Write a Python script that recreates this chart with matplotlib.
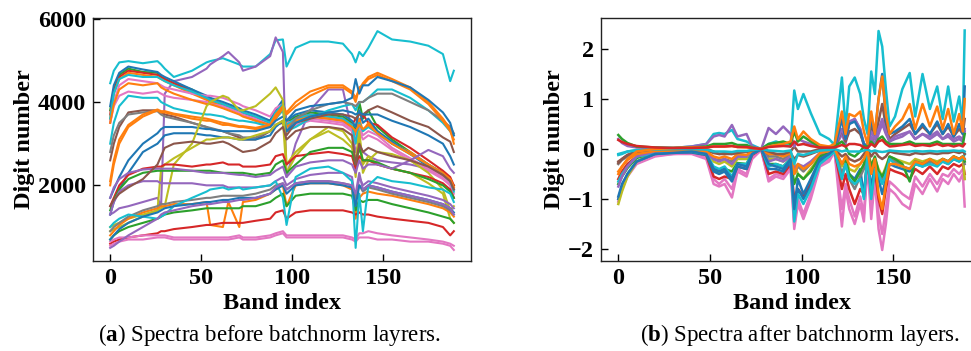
import matplotlib
matplotlib.use("Agg")
import matplotlib.pyplot as plt

plt.rcParams['font.family'] = ['Liberation Serif', 'DejaVu Serif']
plt.rcParams['mathtext.fontset'] = 'custom'
plt.rcParams['mathtext.rm'] = 'Liberation Serif'
plt.rcParams['mathtext.bf'] = 'Liberation Serif:bold'

# ---------------- panel (a): raw spectra ----------------
bands_a = [0, 2, 5, 10, 18, 26, 28, 30, 35, 45, 53, 55, 62, 65, 71, 73, 80, 88, 91, 95, 97,
           102, 110, 120, 128, 133, 135, 137, 139, 142, 147, 155, 165, 175, 183, 187, 189]

colors_a = ['C9', 'C4', 'C2', 'C3', 'C1', 'C0', 'C6', 'C6', 'C9', 'C1',
            'C9', 'C5', 'C7', 'C1', 'C1', 'C0', 'C0', 'C8', 'C8', 'C3',
            'C2', 'C4', 'C4', 'C5', 'C1', 'C7', 'C2', 'C3', 'C6', 'C6',
            'C9', 'C0', 'C4']

spectra_a = [
    [4450, 4750, 4950, 4980, 4930, 4980, 4900, 4800, 4600, 4750, 4950, 4980, 5050, 5000, 4900, 4850, 4850, 5150, 5480, 5500, 4850, 5300, 5450, 5450, 5400, 5150, 4950, 5200, 5100, 5300, 5700, 5500, 5450, 5350, 5150, 4500, 4750],
    [1300, 1350, 1450, 1500, 1600, 1700, 1500, 4200, 4500, 4600, 4800, 4900, 5100, 5200, 4950, 4750, 4850, 5100, 5550, 5200, 2200, 3000, 3800, 4300, 4300, 3300, 2800, 3000, 2800, 2700, 2600, 2550, 2500, 2400, 2200, 2000, 1900],
    [3800, 4300, 4650, 4800, 4720, 4700, 4600, 4550, 4450, 4300, 4100, 4050, 3950, 3900, 3800, 3750, 3650, 3550, 3800, 4000, 3500, 3650, 3750, 3700, 3650, 3500, 3300, 4000, 3600, 3800, 3400, 3100, 2800, 2500, 2300, 2100, 2000],
    [3700, 4250, 4600, 4750, 4700, 4650, 4600, 4550, 4450, 4250, 4100, 4050, 3950, 3900, 3800, 3750, 3600, 3500, 3750, 3950, 3450, 3600, 3700, 3650, 3600, 3450, 3600, 3500, 3700, 3500, 3450, 3150, 2900, 2600, 2350, 2200, 2000],
    [3600, 4200, 4550, 4700, 4650, 4600, 4550, 4500, 4400, 4200, 4050, 4000, 3900, 3850, 3750, 3700, 3550, 3450, 3700, 3900, 3400, 3550, 3650, 3600, 3550, 3400, 3200, 3600, 3300, 3500, 3300, 3000, 2800, 2500, 2300, 2150, 1950],
    [3900, 4400, 4700, 4850, 4780, 4720, 4650, 4600, 4500, 4300, 4150, 4100, 4000, 3950, 3850, 3800, 3700, 3550, 3800, 4050, 3550, 3700, 3800, 3750, 3700, 3550, 3400, 3800, 3500, 3600, 3300, 3050, 2750, 2450, 2250, 2050, 1900],
    [3500, 4000, 4400, 4550, 4500, 4450, 4400, 4350, 4300, 4200, 4150, 4150, 4100, 4050, 3950, 3900, 3800, 3650, 3850, 3950, 3500, 3550, 3600, 3550, 3500, 3350, 3100, 3400, 3200, 3300, 3200, 2900, 2650, 2400, 2200, 2050, 1800],
    [3500, 3900, 4150, 4250, 4200, 4250, 4200, 4150, 4100, 4050, 4000, 3950, 3900, 3850, 3750, 3700, 3600, 3450, 3650, 3850, 3300, 3450, 3550, 3500, 3450, 3300, 3000, 3300, 3100, 3200, 3100, 2850, 2600, 2350, 2150, 2000, 1700],
    [3600, 4200, 4550, 4650, 4600, 4600, 4550, 4500, 4400, 4250, 4100, 4050, 3950, 3900, 3800, 3750, 3650, 3500, 3750, 3950, 3450, 3600, 3700, 3650, 3600, 3450, 3000, 3500, 3300, 3400, 3250, 3000, 2750, 2500, 2250, 2100, 1850],
    [3500, 3950, 4300, 4450, 4400, 4450, 4350, 4300, 4200, 4050, 3950, 3950, 3850, 3800, 3700, 3650, 3550, 3450, 3700, 3900, 3400, 3550, 3650, 3600, 3550, 3400, 3300, 3450, 3350, 3450, 3250, 3000, 2750, 2500, 2250, 2150, 1950],
    [3000, 3500, 3900, 4150, 4100, 4100, 4000, 3950, 3850, 3750, 3700, 3700, 3650, 3600, 3550, 3550, 3500, 3400, 3600, 3800, 3300, 3400, 3600, 3800, 3900, 3950, 3800, 4000, 4000, 4100, 4300, 4300, 4100, 3800, 3500, 3300, 3200],
    [2600, 3000, 3400, 3750, 3800, 3800, 3750, 3700, 3650, 3500, 3400, 3350, 3300, 3250, 3150, 3100, 3100, 3300, 3450, 3500, 3200, 3500, 3600, 3700, 3700, 3650, 3600, 3700, 3700, 3800, 3900, 3750, 3550, 3400, 3150, 3050, 2800],
    [2800, 3200, 3500, 3700, 3750, 3780, 3700, 3650, 3600, 3500, 3400, 3380, 3300, 3250, 3200, 3150, 3150, 3300, 3450, 3550, 3300, 3600, 3800, 3950, 4000, 3950, 3900, 4000, 4000, 4100, 4200, 4200, 4000, 3800, 3550, 3400, 3250],
    [2000, 2500, 3000, 3400, 3650, 3800, 3750, 3750, 3700, 3600, 3550, 3550, 3450, 3450, 3400, 3400, 3350, 3400, 3600, 3850, 3700, 3900, 4150, 4350, 4350, 4200, 4000, 4350, 4400, 4550, 4650, 4500, 4300, 3950, 3550, 3300, 3100],
    [2100, 2600, 3100, 3450, 3700, 3820, 3780, 3780, 3720, 3650, 3600, 3580, 3500, 3480, 3420, 3420, 3380, 3450, 3650, 3900, 3750, 4000, 4250, 4400, 4400, 4250, 4100, 4300, 4450, 4600, 4700, 4550, 4350, 4000, 3600, 3350, 3000],
    [1700, 1900, 2200, 2600, 3000, 3250, 3350, 3400, 3400, 3400, 3350, 3350, 3300, 3300, 3300, 3300, 3300, 3400, 3550, 3650, 3550, 3800, 3900, 3950, 4000, 4100, 4550, 4200, 4400, 4400, 4600, 4500, 4350, 4050, 3750, 3500, 3200],
    [1300, 1600, 1900, 2300, 2800, 3000, 3100, 3200, 3250, 3250, 3200, 3200, 3150, 3150, 3100, 3100, 3100, 3200, 3400, 3550, 3300, 3500, 3650, 3750, 3800, 3750, 3700, 3750, 3700, 3700, 3700, 3550, 3400, 3200, 3000, 2700, 2500],
    [900, 950, 1000, 1100, 1250, 1400, 2400, 2500, 2650, 2900, 3100, 3100, 3150, 3150, 3100, 3100, 3200, 3300, 3450, 3550, 2300, 2700, 3100, 3400, 3300, 3000, 2200, 3200, 2300, 2600, 2800, 2750, 2600, 2300, 1900, 1400, 1500],
    [1000, 1050, 1100, 1200, 1300, 1400, 1450, 1500, 2500, 3000, 3900, 4000, 4150, 4100, 3800, 3800, 3900, 4200, 4350, 4050, 2500, 2800, 3100, 3300, 3100, 2900, 2600, 3300, 2500, 2700, 2500, 2400, 2300, 2050, 1800, 1200, 1100],
    [1500, 1700, 2000, 2250, 2400, 2450, 2450, 2500, 2500, 2450, 2500, 2500, 2550, 2500, 2500, 2450, 2450, 2500, 2700, 2750, 2500, 2700, 2750, 2800, 2750, 2700, 2400, 2700, 2600, 2600, 2500, 2400, 2300, 2200, 2050, 1900, 1700],
    [1400, 1650, 1900, 2150, 2300, 2350, 2350, 2350, 2350, 2350, 2350, 2350, 2300, 2300, 2300, 2300, 2250, 2300, 2500, 2600, 2300, 2500, 2800, 2900, 2900, 2800, 2500, 2900, 2600, 2600, 2550, 2400, 2300, 2150, 2000, 1850, 1700],
    [1700, 1950, 2150, 2300, 2380, 2400, 2400, 2400, 2400, 2350, 2300, 2300, 2300, 2280, 2250, 2250, 2200, 2250, 2350, 2450, 2200, 2450, 2550, 2600, 2600, 2500, 2300, 2600, 2400, 2500, 2500, 2400, 2600, 2850, 2700, 2400, 2300],
    [1300, 1600, 1850, 2000, 2100, 2100, 2050, 2050, 2050, 2050, 2000, 2000, 2000, 1950, 1950, 1950, 1950, 2000, 2100, 2200, 2000, 2150, 2250, 2300, 2300, 2200, 1600, 2200, 2000, 2100, 2050, 1950, 1850, 1750, 1650, 1550, 1450],
    [1500, 1650, 1800, 1950, 2150, 2500, 2700, 2900, 3000, 3050, 3000, 3000, 3050, 3000, 2850, 2800, 2850, 3050, 3250, 3400, 3100, 3300, 3400, 3400, 3350, 3200, 2500, 3000, 2800, 2900, 2800, 2700, 2600, 2450, 2250, 2100, 1900],
    [800, 900, 1050, 1200, 1350, 1450, 1500, 1500, 1550, 1550, 1600, 1050, 1000, 1600, 1000, 1600, 1650, 1800, 1900, 2000, 1500, 2000, 2050, 2050, 2000, 1900, 1200, 1700, 1800, 1850, 1800, 1750, 1650, 1550, 1450, 1350, 1250],
    [900, 1000, 1100, 1250, 1400, 1500, 1550, 1550, 1600, 1650, 1700, 1700, 1750, 1750, 1750, 1750, 1800, 1900, 2000, 2050, 1900, 2050, 2100, 2100, 2050, 2000, 1700, 2000, 1850, 1950, 1900, 1800, 1700, 1600, 1500, 1400, 1300],
    [700, 800, 900, 1000, 1100, 1200, 1250, 1300, 1350, 1400, 1450, 1450, 1450, 1450, 1450, 1500, 1500, 1600, 1700, 1800, 1500, 1750, 1800, 1800, 1800, 1750, 1400, 1650, 1600, 1650, 1650, 1550, 1450, 1350, 1250, 1200, 1100],
    [600, 650, 700, 750, 800, 850, 900, 900, 950, 1000, 1050, 1050, 1100, 1100, 1100, 1100, 1150, 1200, 1350, 1400, 1200, 1350, 1400, 1400, 1400, 1350, 1300, 1350, 1300, 1300, 1250, 1200, 1150, 1100, 1000, 800, 900],
    [550, 600, 650, 700, 700, 750, 750, 750, 700, 700, 700, 700, 700, 700, 750, 700, 700, 750, 800, 850, 750, 750, 750, 750, 750, 700, 650, 750, 750, 750, 700, 700, 650, 650, 600, 550, 450],
    [650, 700, 750, 750, 800, 800, 800, 800, 750, 750, 750, 750, 750, 750, 800, 750, 750, 800, 850, 900, 800, 800, 800, 800, 800, 750, 700, 850, 850, 900, 850, 800, 750, 700, 650, 600, 550],
    [1000, 1100, 1200, 1300, 1250, 1200, 1250, 1300, 1500, 1700, 1850, 1900, 1950, 1900, 1950, 1900, 1950, 2000, 2100, 1700, 1050, 2200, 2400, 2450, 2300, 2100, 500, 1800, 900, 2000, 2200, 2100, 2050, 1950, 1900, 1800, 1600],
    [700, 800, 950, 1100, 1250, 1350, 1400, 1450, 1500, 1550, 1600, 1600, 1650, 1650, 1700, 1700, 1700, 1800, 1900, 2000, 1800, 2000, 2050, 2050, 2000, 1950, 1500, 2000, 1900, 2000, 1950, 1850, 1750, 1650, 1550, 1450, 1350],
    [500, 550, 650, 800, 1000, 1200, 1300, 1350, 1400, 1500, 1550, 1550, 1600, 1600, 1650, 1650, 1700, 1800, 1950, 2050, 1900, 2050, 2100, 2100, 2050, 2000, 1800, 2300, 1900, 2000, 1950, 1850, 1750, 1650, 1550, 1450, 1300],
]

# ---------------- panel (b): after batchnorm ----------------
bands_b = [0, 2, 5, 10, 20, 30, 40, 48, 52, 55, 58, 62, 65, 70, 73, 78, 82, 86, 90, 94, 96, 98,
           101, 105, 110, 115, 118, 122, 124, 126, 129, 132, 134, 136, 138, 140, 142, 144, 146,
           148, 151, 155, 159, 162, 166, 170, 174, 177, 180, 183, 186, 188, 189]

colors_b = ['C6', 'C6', 'C3', 'C0', 'C8', 'C7', 'C2', 'C9', 'C5', 'C4', 'C1', 'C9',
            'C5', 'C4', 'C0', 'C2', 'C9', 'C1', 'C3']

spectra_b = [
    [-1.05, -0.8, -0.55, -0.3, -0.15, -0.1, -0.1, -0.2, -0.7, -0.75, -0.7, -0.97, -0.45, -0.55, -0.2, -0.02, -0.65, -0.55, -0.6, -0.4, -1.6, -1.1, -1.4, -1.0, -0.35, -0.25, -0.05, -1.55, -0.8, -1.2, -1.5, -1.1, -1.45, -0.3, -1.4, -0.6, -1.6, -2.02, -1.5, -0.8, -0.9, -1.1, -1.2, -0.7, -0.9, -0.6, -0.85, -0.6, -0.7, -0.5, -0.65, -0.5, -1.15],
    [-1.0, -0.75, -0.5, -0.28, -0.13, -0.1, -0.08, -0.18, -0.6, -0.7, -0.6, -0.8, -0.4, -0.5, -0.15, -0.02, -0.6, -0.5, -0.55, -0.35, -1.5, -1.0, -1.3, -0.9, -0.3, -0.2, -0.05, -1.2, -0.7, -1.0, -1.35, -0.95, -1.3, -0.25, -1.2, -0.5, -1.3, -1.7, -1.2, -0.65, -0.75, -0.9, -1.0, -0.55, -0.75, -0.5, -0.7, -0.5, -0.55, -0.4, -0.5, -0.4, -0.6],
    [-0.6, -0.45, -0.3, -0.15, -0.08, -0.06, -0.06, -0.12, -0.55, -0.6, -0.55, -0.6, -0.35, -0.4, -0.12, 0.0, -0.5, -0.45, -0.5, -0.3, -1.0, -0.8, -0.95, -0.7, -0.25, -0.15, -0.03, -0.8, -0.5, -0.8, -1.1, -0.8, -0.9, -0.2, -0.9, -0.4, -1.0, -1.3, -0.8, -0.4, -0.45, -0.5, -0.6, -0.4, -0.5, -0.35, -0.5, -0.35, -0.4, -0.3, -0.35, -0.3, -0.5],
    [-1.0, -0.75, -0.5, -0.25, -0.1, -0.07, -0.07, -0.12, -0.45, -0.5, -0.45, -0.65, -0.35, -0.4, -0.1, 0.0, -0.4, -0.4, -0.45, -0.25, -1.3, -0.8, -1.0, -0.75, -0.25, -0.1, -0.05, -0.5, -0.3, -0.5, -0.6, -0.4, -0.95, -0.1, -0.8, -0.3, -0.6, -0.9, -0.6, -0.3, -0.35, -0.4, -0.45, -0.3, -0.35, -0.25, -0.3, -0.25, -0.3, -0.2, -0.25, -0.2, -0.2],
    [-1.1, -0.85, -0.55, -0.25, -0.08, -0.05, -0.05, -0.08, -0.25, -0.3, -0.25, -0.35, -0.2, -0.2, -0.05, 0.0, -0.2, -0.2, -0.25, -0.15, -0.3, -0.5, -0.6, -0.4, -0.15, -0.05, 0.0, -0.35, -0.2, -0.4, -0.45, -0.3, -0.2, -0.05, -0.3, -0.2, -0.4, -0.55, -0.35, -0.15, -0.2, -0.25, -0.3, -0.2, -0.25, -0.2, -0.25, -0.2, -0.25, -0.15, -0.2, -0.15, -0.6],
    [-0.3, -0.22, -0.15, -0.08, -0.04, -0.03, -0.03, -0.05, -0.2, -0.22, -0.2, -0.25, -0.15, -0.15, -0.05, 0.0, -0.15, -0.15, -0.2, -0.1, -0.5, -0.35, -0.45, -0.3, -0.1, -0.05, 0.0, -0.5, -0.3, -0.6, -0.8, -0.55, -0.4, -0.05, -0.4, -0.2, -0.5, -0.6, -0.4, -0.2, -0.25, -0.35, -0.4, -0.25, -0.3, -0.25, -0.3, -0.2, -0.25, -0.15, -0.2, -0.15, -0.3],
    [-0.7, -0.55, -0.38, -0.18, -0.07, -0.05, -0.05, -0.1, -0.4, -0.45, -0.4, -0.45, -0.28, -0.3, -0.08, 0.0, -0.3, -0.3, -0.35, -0.2, -0.7, -0.5, -0.6, -0.45, -0.15, -0.08, -0.02, -0.3, -0.2, -0.5, -0.65, -0.45, -0.3, -0.05, -0.35, -0.15, -0.45, -0.55, -0.4, -0.15, -0.2, -0.3, -0.65, -0.25, -0.3, -0.2, -0.3, -0.2, -0.25, -0.15, -0.2, -0.15, -0.25],
    [-0.65, -0.5, -0.35, -0.15, -0.1, -0.05, -0.05, -0.1, -0.35, -0.4, -0.35, -0.55, -0.3, -0.3, -0.1, 0.0, -0.35, -0.3, -0.35, -0.2, -1.45, -0.9, -1.1, -0.8, -0.3, -0.15, -0.05, -0.6, -0.3, -0.6, -0.7, -0.6, -1.0, -0.1, -1.0, -0.4, -0.5, -0.7, -0.5, -0.2, -0.3, -0.35, -0.4, -0.3, -0.35, -0.3, -0.35, -0.25, -0.3, -0.2, -0.25, -0.2, -0.1],
    [-0.28, -0.2, -0.12, -0.05, -0.02, 0.0, -0.01, -0.03, -0.08, -0.1, -0.08, -0.1, -0.06, -0.06, -0.03, 0.0, -0.1, -0.1, -0.12, -0.08, -0.2, -0.12, -0.15, -0.1, -0.03, -0.01, 0.0, -0.15, -0.1, -0.2, -0.25, -0.2, -0.1, 0.0, -0.15, -0.05, -0.15, -0.2, -0.15, -0.05, -0.08, -0.1, -0.12, -0.08, -0.1, -0.08, -0.1, -0.08, -0.08, -0.05, -0.08, -0.05, -0.1],
    [-0.75, -0.55, -0.35, -0.15, -0.05, -0.04, -0.04, -0.08, -0.2, -0.25, -0.2, -0.3, -0.15, -0.15, -0.05, 0.0, -0.25, -0.2, -0.25, -0.15, -0.4, -0.3, -0.35, -0.25, -0.08, -0.04, 0.0, 0.3, 0.1, 0.55, 0.6, 0.4, 0.05, 0.0, 0.25, 0.1, 0.3, 0.5, 0.3, 0.15, 0.2, 0.25, 0.35, 0.2, 0.3, 0.2, 0.3, 0.2, 0.25, 0.15, 0.2, 0.15, 0.4],
    [-0.45, -0.35, -0.22, -0.1, -0.04, -0.03, -0.03, -0.05, -0.15, -0.18, -0.15, -0.2, -0.1, -0.12, -0.04, 0.0, -0.1, -0.1, -0.15, -0.08, -0.5, -0.3, -0.4, -0.3, -0.08, -0.04, 0.0, -0.3, -0.15, -0.3, -0.35, -0.3, -0.2, -0.03, -0.5, -0.2, -0.9, -1.2, -0.7, -0.3, -0.3, -0.35, -0.4, -0.25, -0.3, -0.2, -0.3, -0.2, -0.25, -0.15, -0.2, -0.15, -0.2],
    [-0.12, -0.1, -0.05, -0.02, 0.02, 0.02, 0.05, 0.1, 0.3, 0.32, 0.3, 0.38, 0.2, 0.15, 0.08, 0.0, 0.1, 0.15, 0.1, 0.05, 1.17, 0.8, 1.1, 0.72, 0.3, 0.2, 0.08, 1.43, 0.4, 1.25, 1.43, 1.1, 0.6, 0.3, 1.55, 1.1, 2.36, 2.05, 1.2, 0.45, 0.65, 1.2, 1.52, 0.65, 1.5, 0.8, 1.25, 0.6, 1.25, 0.55, 1.05, 0.5, 2.37],
    [-0.25, -0.2, -0.12, -0.05, 0.0, 0.0, 0.0, 0.0, -0.05, -0.1, -0.1, -0.1, -0.08, -0.05, -0.03, 0.0, -0.05, -0.1, -0.1, -0.05, 0.05, -0.05, -0.05, -0.05, 0.0, 0.0, 0.0, 0.4, 0.15, 0.35, 0.4, 0.3, 0.1, 0.05, 0.45, 0.2, 0.55, 0.9, 0.45, 0.2, 0.3, 0.4, 0.5, 0.3, 0.45, 0.3, 0.5, 0.3, 0.45, 0.25, 0.4, 0.3, 0.6],
    [0.2, 0.12, 0.06, 0.03, 0.02, 0.02, 0.05, 0.1, 0.25, 0.28, 0.25, 0.48, 0.25, 0.3, 0.05, 0.0, 0.42, 0.3, 0.45, 0.3, 0.05, 0.2, 0.15, 0.1, 0.05, 0.05, 0.05, 0.4, 0.2, 0.5, 0.6, 0.4, 0.1, 0.05, 0.35, 0.2, 0.4, 0.6, 0.35, 0.15, 0.25, 0.3, 0.35, 0.2, 0.3, 0.25, 0.35, 0.2, 0.3, 0.2, 0.25, 0.2, 0.35],
    [-0.95, -0.7, -0.5, -0.25, -0.1, -0.08, -0.05, -0.1, -0.4, -0.45, -0.4, -0.6, -0.3, -0.35, -0.1, 0.0, -0.3, -0.35, -0.4, -0.2, -1.2, -0.6, -0.9, -0.6, -0.2, -0.1, 0.0, 0.6, 0.2, 0.5, 0.55, 0.35, 0.1, 0.05, 0.6, 0.3, 1.0, 1.5, 0.6, 0.3, 0.35, 0.45, 0.6, 0.3, 0.5, 0.3, 0.55, 0.3, 0.5, 0.25, 0.5, 0.3, 1.25],
    [0.28, 0.2, 0.12, 0.05, 0.03, 0.02, 0.03, 0.05, 0.1, 0.1, 0.1, 0.12, 0.08, 0.08, 0.03, 0.0, 0.1, 0.12, 0.15, 0.1, 0.35, 0.15, 0.25, 0.15, 0.05, 0.03, 0.05, 0.15, 0.05, -0.1, -0.15, -0.05, 0.05, 0.05, 0.15, 0.05, 0.2, 0.25, 0.15, 0.1, 0.1, 0.1, 0.15, 0.1, 0.1, 0.1, 0.15, 0.1, 0.1, 0.1, 0.1, 0.1, 0.3],
    [-0.1, -0.08, -0.05, -0.03, -0.01, 0.0, 0.0, -0.01, -0.05, -0.05, -0.05, -0.06, -0.04, -0.04, -0.02, 0.0, -0.03, -0.04, -0.05, -0.03, -0.3, -0.1, -0.12, -0.08, -0.03, -0.02, 0.0, -0.05, -0.03, -0.05, -0.05, -0.05, -0.03, -0.01, -0.05, -0.03, -0.05, -0.06, -0.05, -0.03, -0.04, -0.05, -0.05, -0.04, -0.05, -0.04, -0.05, -0.04, -0.04, -0.03, -0.04, -0.03, -0.05],
    [-0.5, -0.35, -0.2, -0.05, 0.0, 0.02, 0.03, 0.03, 0.05, 0.05, 0.05, 0.06, 0.04, 0.03, 0.02, 0.0, 0.05, 0.08, 0.1, 0.15, 0.45, 0.2, 0.35, 0.2, 0.08, 0.05, 0.1, 0.75, 0.3, 0.7, 0.65, 0.75, 0.35, 0.1, 0.75, 0.3, 1.0, 1.45, 0.7, 0.3, 0.45, 0.6, 0.9, 0.4, 0.9, 0.45, 0.85, 0.4, 0.8, 0.3, 0.7, 0.35, 1.0],
    [0.18, 0.14, 0.1, 0.06, 0.03, 0.02, 0.02, 0.03, 0.05, 0.05, 0.05, 0.06, 0.04, 0.04, 0.02, 0.0, 0.04, 0.05, 0.06, 0.05, 0.15, 0.08, 0.1, 0.06, 0.03, 0.03, 0.03, 0.08, 0.05, 0.1, 0.1, 0.08, 0.03, 0.02, 0.1, 0.05, 0.15, 0.18, 0.1, 0.05, 0.06, 0.08, 0.1, 0.06, 0.08, 0.06, 0.1, 0.06, 0.08, 0.05, 0.08, 0.05, 0.1],
]

xticks = [0, 50, 100, 150]
yticks_a = [2000, 4000, 6000]
yticks_b = [-2, -1, 0, 1, 2]
xlabel = "Band index"
ylabel = "Digit number"
caption_a = r"($\mathbf{a}$) Spectra before batchnorm layrers."
caption_b = r"($\mathbf{b}$) Spectra after batchnorm layers."

fig = plt.figure(figsize=(9.71, 3.51), dpi=100)
ax1 = fig.add_axes([93 / 971, 90 / 351, 378 / 971, 243 / 351])
ax2 = fig.add_axes([601 / 971, 90 / 351, 381 / 971, 243 / 351])

for vals, c in zip(spectra_a, colors_a):
    ax1.plot(bands_a, vals, color=c, lw=1.5)
for vals, c in zip(spectra_b, colors_b):
    ax2.plot(bands_b, vals, color=c, lw=1.8)

for ax, yt in ((ax1, yticks_a), (ax2, yticks_b)):
    ax.set_xticks(xticks)
    ax.set_yticks(yt)
    ax.tick_params(direction='in', length=5, width=1, labelsize=17.5, pad=5)
    for lab in ax.get_xticklabels() + ax.get_yticklabels():
        lab.set_fontweight('bold')
    ax.set_xlabel(xlabel, fontsize=17.5, fontweight='bold', labelpad=3)
    ax.set_ylabel(ylabel, fontsize=17.5, fontweight='bold', labelpad=2)
    for s in ax.spines.values():
        s.set_linewidth(1.0)
        s.set_color('#222222')

ax1.set_ylim(185, 6015)
ax2.set_ylim(-2.24, 2.62)
ax1.set_xlim(-9.45, 198.45)
ax2.set_xlim(-9.45, 198.45)

fig.text(269 / 971, 1 - 335 / 351, caption_a, ha='center', va='center', fontsize=16.5)
fig.text(800 / 971, 1 - 335 / 351, caption_b, ha='center', va='center', fontsize=16.5)

fig.savefig("out.png", dpi=100)
